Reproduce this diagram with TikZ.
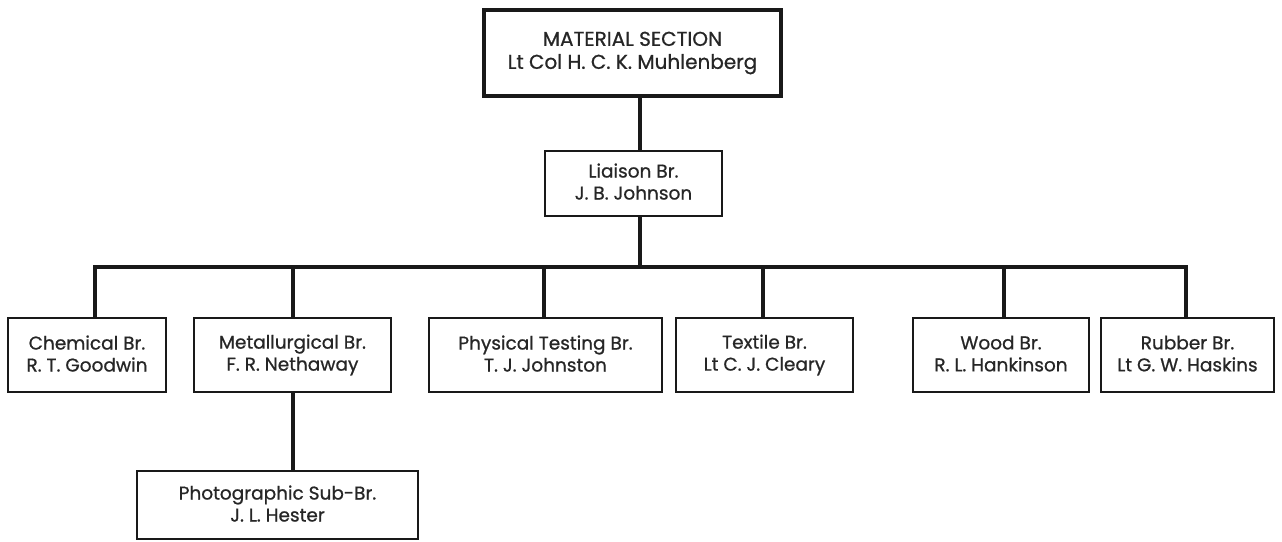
\documentclass[tikz,border=0pt]{standalone}
\usepackage{fontspec}
\setmainfont{Poppins}[FakeBold=0.8]
% line strut keeping every two-line label at the same height
\newcommand{\linestrut}{\rule[-3pt]{0pt}{18pt}}
\begin{document}
\begin{tikzpicture}[x=1pt,y=-1pt,
  box/.style={draw=black!90, line width=2pt, rectangle, inner sep=0pt,
    align=center, text=black!85, font=\fontsize{18.5}{22}\selectfont,
    execute at begin node=\linestrut, execute at end node=\linestrut},
  headbox/.style={box, line width=4.5pt, font=\fontsize{20}{23}\selectfont},
  conn/.style={draw=black!90, line width=4pt, line join=miter}]
  \useasboundingbox (0,0) rectangle (1282,541);

  % head of the section and the liaison branch
  \node[headbox, minimum width=297pt, minimum height=86pt] (head) at (632.5,53)
    {MATERIAL SECTION\\Lt Col H. C. K. Muhlenberg};
  \node[box, minimum width=177pt, minimum height=65pt] (liaison) at (633.5,183)
    {Liaison Br.\\J. B. Johnson};

  % the six branches
  \node[box, minimum width=158pt, minimum height=74pt] (chem) at (87,355)
    {Chemical Br.\\R. T. Goodwin};
  \node[box, minimum width=197pt, minimum height=74pt] (metal) at (292.5,355)
    {Metallurgical Br.\\F. R. Nethaway};
  \node[box, minimum width=233pt, minimum height=74pt] (phys) at (545.5,355)
    {Physical Testing Br.\\T. J. Johnston};
  \node[box, minimum width=177pt, minimum height=74pt] (textile) at (764.5,355)
    {Textile Br.\\Lt C. J. Cleary};
  \node[box, minimum width=176pt, minimum height=74pt] (wood) at (1001,355)
    {Wood Br.\\R. L. Hankinson};
  \node[box, minimum width=173pt, minimum height=74pt] (rubber) at (1187.5,355)
    {Rubber Br.\\Lt G. W. Haskins};

  % sub-branch
  \node[box, minimum width=281pt, minimum height=68pt] (photo) at (277.5,505)
    {Photographic Sub-Br.\\J. L. Hester};

  % connectors
  \coordinate (bus) at (640,267);
  \draw[conn] (head.south -| bus) -- (liaison.north -| bus);
  \draw[conn] (liaison.south -| bus) -- (bus);
  \draw[conn] ([xshift=8pt]chem.north) -- ([xshift=8pt]chem.north |- bus)
    -- ([xshift=-2pt]rubber.north |- bus) -- ([xshift=-2pt]rubber.north);
  \draw[conn] (metal.north) -- (metal.north |- bus);
  \draw[conn] ([xshift=-2pt]phys.north) -- ([xshift=-2pt]phys.north |- bus);
  \draw[conn] ([xshift=-2pt]textile.north) -- ([xshift=-2pt]textile.north |- bus);
  \draw[conn] ([xshift=3pt]wood.north) -- ([xshift=3pt]wood.north |- bus);
  \draw[conn] (metal.south) -- (photo.north -| metal.south);
\end{tikzpicture}
\end{document}
